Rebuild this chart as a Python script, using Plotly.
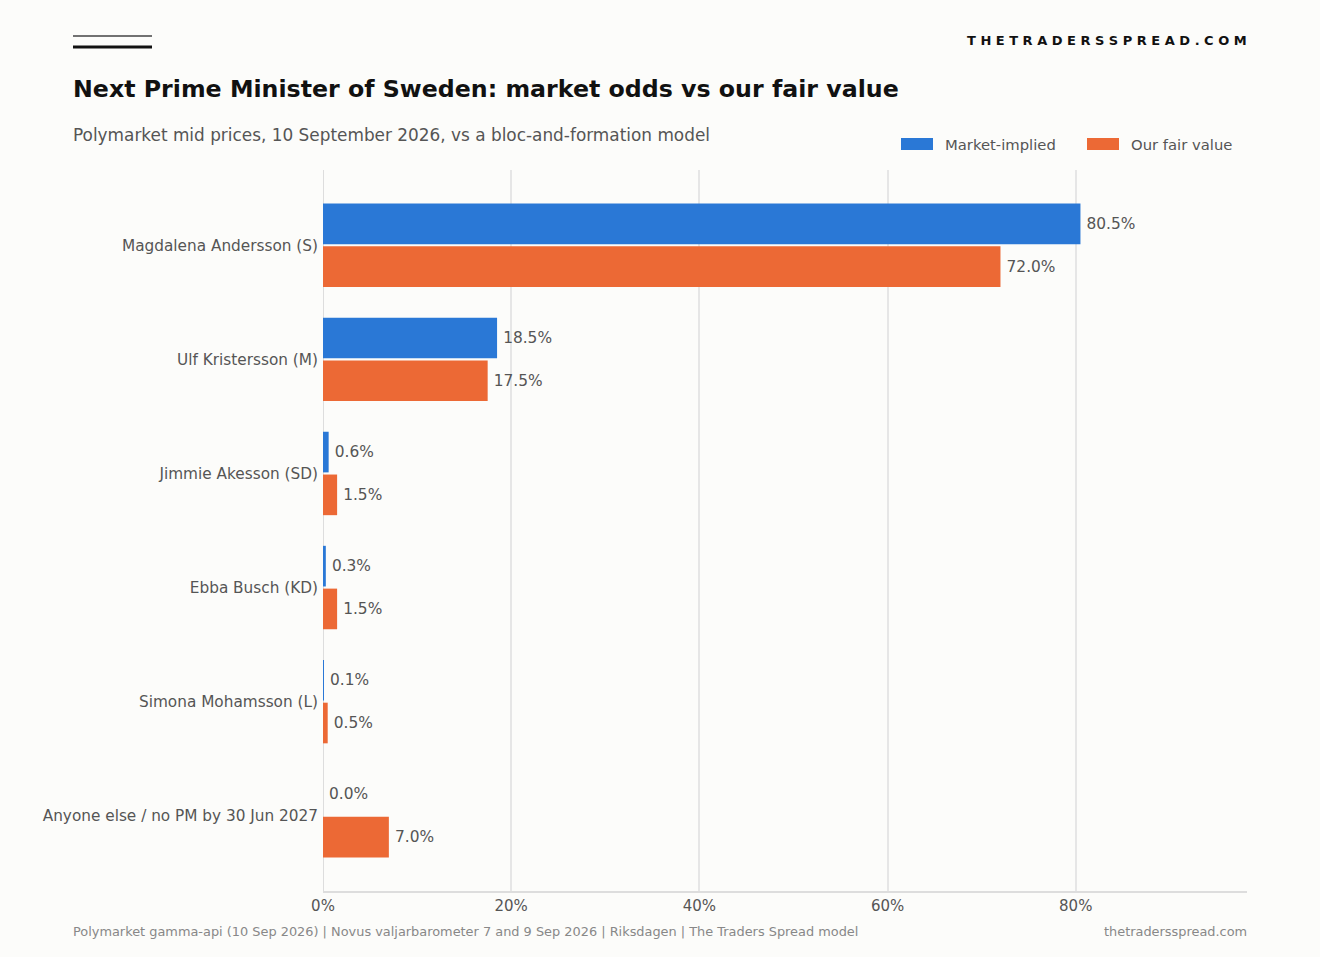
"""Next Prime Minister of Sweden: market odds vs fair value, horizontal grouped bars."""
import plotly.graph_objects as go

candidates = [
    "Magdalena Andersson (S)",
    "Ulf Kristersson (M)",
    "Jimmie Akesson (SD)",
    "Ebba Busch (KD)",
    "Simona Mohamsson (L)",
    "Anyone else / no PM by 30 Jun 2027",
]
market_implied = [80.5, 18.5, 0.6, 0.3, 0.1, 0.0]
fair_value = [72.0, 17.5, 1.5, 1.5, 0.5, 7.0]
x_ticks = [0, 20, 40, 60, 80]
x_tick_labels = ["0%", "20%", "40%", "60%", "80%"]

W, H = 1320, 957
ML, MR, MT, MB = 323, 73, 170, 66
PW, PH = W - ML - MR, H - MT - MB

BLUE = "#2a78d6"
ORANGE = "#ec6935"
BG = "#fcfcfa"
TXT = "#555555"
FONT = "DejaVu Sans, sans-serif"


def px_x(x):
    return (x - ML) / PW


def px_y(y):
    return (H - MB - y) / PH


fig = go.Figure()
fig.add_trace(go.Bar(
    y=candidates, x=market_implied, orientation="h", name="Market-implied",
    marker=dict(color=BLUE, line=dict(width=0)),
    text=[f"\u2009{v:.1f}%" for v in market_implied], textposition="outside",
    textfont=dict(size=15.4, color=TXT), cliponaxis=False,
))
fig.add_trace(go.Bar(
    y=candidates, x=fair_value, orientation="h", name="Our fair value",
    marker=dict(color=ORANGE, line=dict(width=0)),
    text=[f"\u2009{v:.1f}%" for v in fair_value], textposition="outside",
    textfont=dict(size=15.4, color=TXT), cliponaxis=False,
))

# annotation boxes carry ~2px padding, so left-anchored text is nudged by -2, right by +2
annotations = [
    dict(text="<b>Next Prime Minister of Sweden: market odds vs our fair value</b>",
         x=px_x(71), y=px_y(89), xanchor="left", yanchor="middle",
         font=dict(size=23.7, color="#111111")),
    dict(text="Polymarket mid prices, 10 September 2026, vs a bloc-and-formation model",
         x=px_x(71), y=px_y(135), xanchor="left", yanchor="middle",
         font=dict(size=16.9, color=TXT)),
    dict(text="<b>" + " ".join("THETRADERSSPREAD.COM") + "</b>",
         x=px_x(1249), y=px_y(40), xanchor="right", yanchor="middle",
         font=dict(size=13, color="#111111")),
    dict(text="Polymarket gamma-api (10 Sep 2026) | Novus valjarbarometer 7 and 9 Sep 2026 | Riksdagen | The Traders Spread model",
         x=px_x(71), y=px_y(931), xanchor="left", yanchor="middle",
         font=dict(size=12.9, color="#888888")),
    dict(text="thetradersspread.com",
         x=px_x(1249), y=px_y(931), xanchor="right", yanchor="middle",
         font=dict(size=12.9, color="#888888")),
    # hand-drawn legend labels
    dict(text="Market-implied", x=px_x(943), y=px_y(144), xanchor="left", yanchor="middle",
         font=dict(size=14.8, color=TXT)),
    dict(text="Our fair value", x=px_x(1129), y=px_y(144), xanchor="left", yanchor="middle",
         font=dict(size=14.8, color=TXT)),
]
for a in annotations:
    a.update(xref="paper", yref="paper", showarrow=False)

shapes = [
    dict(type="line", x0=px_x(73), x1=px_x(152), y0=px_y(36), y1=px_y(36),
         line=dict(color="#444444", width=1.5)),
    dict(type="line", x0=px_x(73), x1=px_x(152), y0=px_y(47), y1=px_y(47),
         line=dict(color="#111111", width=3)),
    dict(type="rect", x0=px_x(901), x1=px_x(933), y0=px_y(138), y1=px_y(150),
         fillcolor=BLUE, line=dict(width=0)),
    dict(type="rect", x0=px_x(1087), x1=px_x(1119), y0=px_y(138), y1=px_y(150),
         fillcolor=ORANGE, line=dict(width=0)),
]
for s in shapes:
    s.update(xref="paper", yref="paper")

fig.update_layout(
    width=W, height=H,
    margin=dict(l=ML, r=MR, t=MT, b=MB, autoexpand=False),
    paper_bgcolor=BG, plot_bgcolor=BG,
    font=dict(family=FONT, size=15, color=TXT),
    barmode="group", bargap=0.25, bargroupgap=0.05,
    showlegend=False,
    annotations=annotations, shapes=shapes,
    xaxis=dict(range=[0, 98.2], tickmode="array", tickvals=x_ticks, ticktext=x_tick_labels,
               showgrid=True, gridcolor="#e6e6e6", gridwidth=1.5,
               zeroline=True, zerolinecolor="#dddddd", zerolinewidth=1,
               showline=True, linecolor="#dddddd", linewidth=1.5,
               ticks="", tickfont=dict(size=15, color=TXT)),
    yaxis=dict(range=[5.66, -0.66], showgrid=False, ticks="",
               showline=False, zeroline=False, ticklabelstandoff=4,
               tickfont=dict(size=15.3, color=TXT)),
)

fig.write_html("out.html", config={"displayModeBar": False},
               post_script="document.body.style.margin='0';")
